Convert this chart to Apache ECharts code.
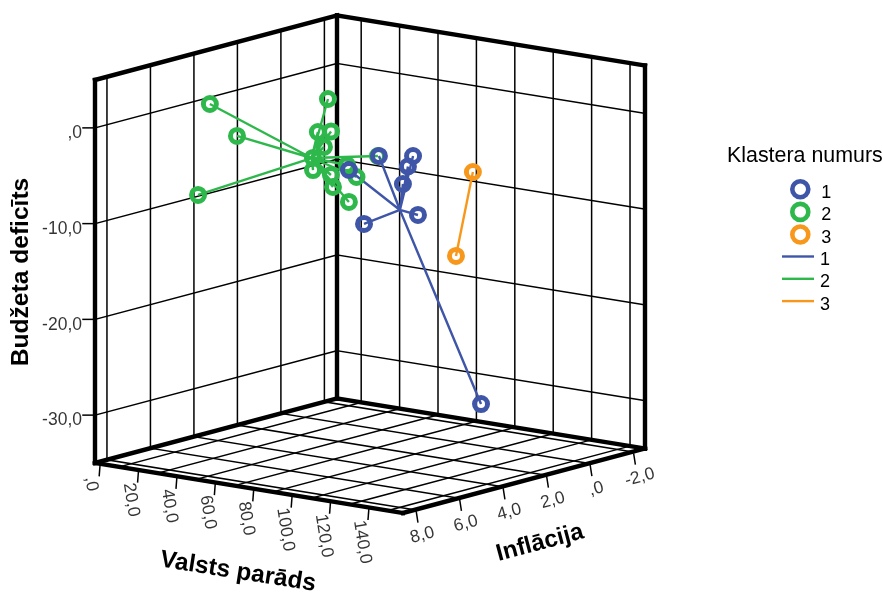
<!DOCTYPE html>
<html><head><meta charset="utf-8">
<style>html,body{margin:0;padding:0;background:#fff}#c{width:883px;height:592px}</style>
<script src="https://cdn.jsdelivr.net/npm/echarts@6/dist/echarts.min.js"></script>
</head><body><div id="c"></div>
<script>
// ---- data ----
const debtTicks = [0,20,40,60,80,100,120,140];
const inflationTicks = [8,6,4,2,0,-2];
const deficitTicks = [0,-10,-20,-30];
const debtTickLabels = [',0','20,0','40,0','60,0','80,0','100,0','120,0','140,0'];
const inflationTickLabels = ['8,0','6,0','4,0','2,0',',0','-2,0'];
const deficitTickLabels = [',0','-10,0','-20,0','-30,0'];

const debt1 = [67.7,83.2,82.8,83.6,86.9,93.9,66.8,83.5];
const infl1 = [1.7,1.5,1.7,2.0,1.6,4.7,3.0,-1.6];
const defi1 = [-4.79,-4.41,-5.40,-7.02,-10.39,-9.22,-5.50,-32.18];
const centre1 = [80.9,1.9,-9.88];

const debt2 = [5.7,8.5,5.2,38.9,39.3,37.1,36.8,42.4,48.1,46.1,41.5,49.8,48.1,48.8,53.6];
const infl2 = [4.0,3.0,4.5,1.5,2.0,1.2,1.5,2.5,3.0,2.0,1.5,1.5,1.0,1.5,0.5];
const defi2 = [0.01,-3.84,-9.2,0.10,-3.03,-3.53,-4.98,-5.34,-6.11,-7.30,-9.0,-10.3,-8.05,-6.47,-5.98];
const centre2 = [38.3,2.2,-5.66];

const debt3 = [115.5,141.8];
const infl3 = [1.6,4.7];
const defi3 = [-4.97,-11.0];

const clusterNames = ['1','2','3'];
const lineNames = ['Līnija 1','Līnija 2','Līnija 3'];
const colors = ['#3f56a8','#2eb84b','#f7981d'];

// ---- axis ranges and projection of the 3D box on the page ----
const debtMin=-2.6, debtMax=157.8, inflMax=8.55, inflMin=-2.58, defMin=-35, defMax=5;
const gridDebtShift=10; // the debt grid lines sit this far from the debt ticks
const O=[95,463], U=[308,50], V=[242,-64.5], W=[0,-383];
function P(d,i,z){
  const u=(d-debtMin)/(debtMax-debtMin), v=(inflMax-i)/(inflMax-inflMin), w=(z-defMin)/(defMax-defMin);
  return [O[0]+u*U[0]+v*V[0]+w*W[0], O[1]+u*U[1]+v*V[1]+w*W[1]];
}
const series=[];
function seg(a,b,width,z){
  series.push({type:'line',data:[a,b],showSymbol:false,silent:true,animation:false,z:z,
    lineStyle:{color:'#000',width:width,cap:'square'}});
}
// grid
deficitTicks.forEach(z=>{
  seg(P(debtMin,inflMax,z),P(debtMin,inflMin,z),1.5,2);
  seg(P(debtMin,inflMin,z),P(debtMax,inflMin,z),1.5,2);
});
inflationTicks.forEach(i=>{
  seg(P(debtMin,i,defMin),P(debtMin,i,defMax),1.5,2);
  seg(P(debtMin,i,defMin),P(debtMax,i,defMin),1.5,2);
});
debtTicks.forEach(d=>{
  const g=d+gridDebtShift;
  seg(P(g,inflMin,defMin),P(g,inflMin,defMax),1.5,2);
  seg(P(g,inflMax,defMin),P(g,inflMin,defMin),1.5,2);
});
// frame
[[debtMin,inflMax],[debtMin,inflMin],[debtMax,inflMin]].forEach(c=>seg(P(c[0],c[1],defMin),P(c[0],c[1],defMax),4.4,3));
seg(P(debtMin,inflMax,defMax),P(debtMin,inflMin,defMax),4.4,3);
seg(P(debtMin,inflMin,defMax),P(debtMax,inflMin,defMax),4.4,3);
seg(P(debtMin,inflMax,defMin),P(debtMin,inflMin,defMin),4.4,3);
seg(P(debtMin,inflMin,defMin),P(debtMax,inflMin,defMin),4.4,3);
seg(P(debtMin,inflMax,defMin),P(debtMax,inflMax,defMin),4.4,3);
seg(P(debtMax,inflMax,defMin),P(debtMax,inflMin,defMin),4.4,3);
// ticks
debtTicks.forEach(d=>seg(P(d,inflMax,defMin-0.2),P(d-0.4,inflMax,defMin-1.25),1.5,2));
inflationTicks.forEach(i=>seg(P(debtMax+0.7,i,defMin-0.2),P(debtMax+1.5,i,defMin-1.2),1.5,2));
deficitTicks.forEach(z=>{const p=P(debtMin,inflMax,z);seg([p[0]-12,p[1]],p,1.5,2);});

// tick labels
const tickFont={color:'#000',fontFamily:'Liberation Sans, Arial, sans-serif',fontSize:17.5};
function labelSeries(points,texts,opt){
  series.push({type:'scatter',symbolSize:0,silent:true,animation:false,z:6,
    data:points.map((p,k)=>({value:p,label:{show:true,formatter:texts[k],...tickFont,...opt}}))});
}
labelSeries(debtTicks.map(d=>P(d,inflMax,defMin-1.25)),debtTickLabels,{position:[-10,1],align:'left',verticalAlign:'middle',rotate:-81});
labelSeries(inflationTicks.map(i=>P(debtMax+1.5,i,defMin-1.2)),inflationTickLabels,{position:[4.5,13.5],align:'center',verticalAlign:'middle',rotate:15});
labelSeries(deficitTicks.map(z=>P(debtMin,inflMax,z)),deficitTickLabels,{position:[-13,5.5],align:'right',verticalAlign:'middle'});

// data: spikes from the cluster centres, then the rings
function spokes(c,ds,is,zs){
  const out=[];const cp=P(c[0],c[1],c[2]);
  ds.forEach((d,k)=>{out.push(cp);out.push(P(d,is[k],zs[k]));});
  return out;
}
const lineData=[spokes(centre1,debt1,infl1,defi1),spokes(centre2,debt2,infl2,defi2),
  debt3.map((d,k)=>P(d,infl3[k],defi3[k]))];
const ptData=[
  debt1.map((d,k)=>P(d,infl1[k],defi1[k])),
  debt2.map((d,k)=>P(d,infl2[k],defi2[k])),
  debt3.map((d,k)=>P(d,infl3[k],defi3[k]))];
const zOrder=[9,8,9];
[0,1,2].forEach(k=>{
  series.push({name:lineNames[k],type:'line',data:lineData[k],showSymbol:false,animation:false,silent:true,z:zOrder[k],
    itemStyle:{color:colors[k]},lineStyle:{color:colors[k],width:2.4}});
  series.push({name:clusterNames[k],type:'scatter',data:ptData[k],symbol:'circle',symbolSize:13,animation:false,silent:true,z:zOrder[k]+1,
    itemStyle:{color:'rgba(255,255,255,0)',borderColor:colors[k],borderWidth:5,opacity:1}});
});

const font='Liberation Sans, Arial, sans-serif';
const legendRich={fontFamily:font,fontSize:18,color:'#000',padding:[7,0,0,0]};
const option={
  backgroundColor:'#fff',
  animation:false,
  title:{text:'Klastera numurs',left:727,top:146,padding:0,textStyle:{fontFamily:font,fontWeight:'normal',fontSize:21.4,color:'#000'}},
  grid:{left:0,right:0,top:0,bottom:0,containLabel:false},
  xAxis:{type:'value',min:0,max:883,show:false},
  yAxis:{type:'value',min:0,max:592,inverse:true,show:false},
  legend:[
    {orient:'vertical',left:790,top:179,padding:0,itemWidth:16,itemHeight:16,itemGap:-0.2,itemSymbolKeepAspect:true,selectedMode:false,icon:'circle',
     formatter:n=>'{a|'+n+'}',
     textStyle:{padding:[0,0,0,8],rich:{a:legendRich}},
     data:clusterNames.map((n,k)=>({name:n,icon:'circle',itemStyle:{color:'rgba(255,255,255,0)',borderColor:colors[k],borderWidth:4.6}}))},
    {orient:'vertical',left:782,top:251,padding:0,itemWidth:32,itemHeight:2.4,itemGap:4.3,selectedMode:false,
     formatter:n=>'{a|'+n.slice(-1)+'}',
     textStyle:{padding:[0,0,0,1],rich:{a:legendRich}},
     data:lineNames.map((n,k)=>({name:n,icon:'rect',itemStyle:{color:colors[k],borderWidth:0}}))}
  ],
  graphic:[
    {type:'text',x:21,y:272,rotation:Math.PI/2,style:{text:'Budžeta deficīts',x:0,y:0,align:'center',verticalAlign:'middle',font:'bold 24.6px '+font,fill:'#000'}},
    {type:'text',x:238,y:572,rotation:-9*Math.PI/180,style:{text:'Valsts parāds',x:0,y:0,align:'center',verticalAlign:'middle',font:'bold 24.4px '+font,fill:'#000'}},
    {type:'text',x:540,y:543,rotation:15*Math.PI/180,style:{text:'Inflācija',x:0,y:0,align:'center',verticalAlign:'middle',font:'bold 24px '+font,fill:'#000'}}
  ],
  series:series
};
const chart=echarts.init(document.getElementById('c'),null,{renderer:'canvas'});
chart.setOption(option);
</script></body></html>
